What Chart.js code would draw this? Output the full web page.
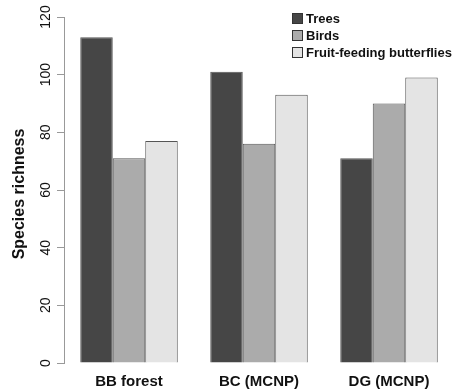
<!DOCTYPE html>
<html>
<head>
<meta charset="utf-8">
<script src="https://cdn.jsdelivr.net/npm/chart.js@4/dist/chart.umd.min.js"></script>
<style>
  html, body { margin: 0; padding: 0; background: #fff; }
  #wrap { width: 454px; height: 392px; }
</style>
</head>
<body>
<div id="wrap"><canvas id="c" width="454" height="392"></canvas></div>
<script>
// Sites and species richness per taxon
const sites = ['BB forest', 'BC (MCNP)', 'DG (MCNP)'];
const trees = [113, 101, 71];
const birds = [71, 76, 90];
const butterflies = [77, 93, 99];
const yTicks = [0, 20, 40, 60, 80, 100, 120];
const seriesNames = ['Trees', 'Birds', 'Fruit-feeding butterflies'];
const seriesColors = ['#464646', '#ababab', '#e4e4e4'];

const FONT = '"Liberation Sans", Arial, Helvetica, sans-serif';

// Rotated y tick labels, axis title, x category labels and legend box
const annotate = {
  id: 'annotate',
  afterDraw(chart) {
    const ctx = chart.ctx;
    const y = chart.scales.y;
    const x = chart.scales.x;
    const area = chart.chartArea;
    ctx.save();
    ctx.fillStyle = '#111';

    // y tick labels, read bottom-to-top
    ctx.font = '14px ' + FONT;
    ctx.textAlign = 'center';
    ctx.textBaseline = 'middle';
    yTicks.forEach(v => {
      const py = y.getPixelForValue(v);
      ctx.save();
      ctx.translate(46, py);
      ctx.rotate(-Math.PI / 2);
      ctx.fillText(String(v), 0, 0);
      ctx.restore();
    });

    // axis title
    ctx.font = 'bold 16px ' + FONT;
    ctx.save();
    ctx.translate(20, (area.top + area.bottom) / 2 + 4);
    ctx.rotate(-Math.PI / 2);
    ctx.fillText('Species richness', 0, 0);
    ctx.restore();

    // category labels
    ctx.font = 'bold 15px ' + FONT;
    sites.forEach((s, i) => {
      ctx.fillText(s, x.getPixelForValue(i), 382);
    });

    // legend
    ctx.font = 'bold 13px ' + FONT;
    ctx.textAlign = 'left';
    const rows = [18, 35, 52];
    seriesNames.forEach((n, i) => {
      ctx.fillStyle = seriesColors[i];
      ctx.fillRect(292, rows[i] - 5, 11, 11);
      ctx.strokeStyle = '#333';
      ctx.lineWidth = 1;
      ctx.strokeRect(292.5, rows[i] - 4.5, 10, 10);
      ctx.fillStyle = '#111';
      ctx.fillText(n, 306, rows[i] + 1);
    });
    ctx.restore();
  }
};

const makeSet = (label, data, i) => ({
  label,
  data,
  backgroundColor: seriesColors[i],
  borderColor: '#555',
  borderWidth: 1,
  categoryPercentage: 0.75,
  barPercentage: 1.0
});

new Chart(document.getElementById('c'), {
  type: 'bar',
  data: {
    labels: sites,
    datasets: [
      makeSet(seriesNames[0], trees, 0),
      makeSet(seriesNames[1], birds, 1),
      makeSet(seriesNames[2], butterflies, 2)
    ]
  },
  options: {
    responsive: false,
    animation: false,
    devicePixelRatio: 1,
    layout: { padding: { top: 17, bottom: 29, left: 0, right: 0 } },
    plugins: { legend: { display: false }, tooltip: { enabled: false } },
    scales: {
      x: {
        display: false
      },
      y: {
        min: 0,
        max: 120,
        afterFit(scale) { scale.width = 64; },
        afterBuildTicks(scale) { scale.ticks = yTicks.map(v => ({ value: v })); },
        ticks: { display: false },
        grid: { drawOnChartArea: false, drawTicks: true, tickLength: 7, color: '#999', lineWidth: 1 },
        border: { display: true, color: '#999', width: 1 }
      }
    }
  },
  plugins: [annotate]
});
</script>
</body>
</html>
